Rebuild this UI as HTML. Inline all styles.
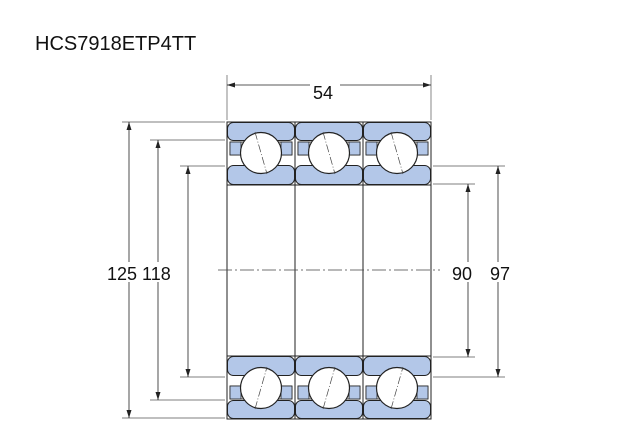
<!DOCTYPE html>
<html><head><style>
body{margin:0;background:#fff;width:640px;height:440px;overflow:hidden}
svg{display:block}
text{font-family:"Liberation Sans",sans-serif;fill:#111}
</style></head><body>
<svg width="640" height="440" viewBox="0 0 640 440">
<defs>
<marker id="a" markerWidth="8" markerHeight="8" refX="8" refY="4" orient="auto-start-reverse" markerUnits="userSpaceOnUse"><path d="M0,1.5 L8,4 L0,6.5z" fill="#222"/></marker>
<g id="top">
  <rect x="0" y="0" width="68" height="63" fill="none" stroke="#222" stroke-width="1"/>
  <rect x="0.5" y="0.5" width="67" height="18" rx="6" fill="#b3c7e8" stroke="#222"/>
  <rect x="0.5" y="43.5" width="67" height="19" rx="6" fill="#b3c7e8" stroke="#222"/>
  <rect x="3" y="20" width="62" height="13" fill="#fff" stroke="#222" stroke-width="0.8"/>
  <rect x="3" y="20" width="11" height="13" fill="#b3c7e8" stroke="#222" stroke-width="0.8"/>
  <rect x="54" y="20" width="11" height="13" fill="#b3c7e8" stroke="#222" stroke-width="0.8"/>
  <circle cx="34" cy="31" r="20.5" fill="#fff" stroke="#222" stroke-width="1.2"/>
  <line x1="28" y1="10" x2="40" y2="52" stroke="#444" stroke-width="0.7" stroke-dasharray="8,2,1,2"/>
</g>
</defs>
<text x="35" y="50" font-size="20">HCS7918ETP4TT</text>
<g transform="translate(227,122)"><use href="#top"/></g>
<g transform="translate(295,122)"><use href="#top"/></g>
<g transform="translate(363,122)"><use href="#top"/></g>
<g transform="translate(227,419) scale(1,-1)"><use href="#top"/></g>
<g transform="translate(295,419) scale(1,-1)"><use href="#top"/></g>
<g transform="translate(363,419) scale(1,-1)"><use href="#top"/></g>
<g stroke="#222" stroke-width="1" fill="none">
<line x1="227" y1="185" x2="227" y2="357"/>
<line x1="295" y1="185" x2="295" y2="357"/>
<line x1="363" y1="185" x2="363" y2="357"/>
<line x1="431" y1="185" x2="431" y2="357"/>
</g>
<line x1="218" y1="270" x2="440" y2="270" stroke="#444" stroke-width="0.7" stroke-dasharray="14,3,2,3"/>
<g stroke="#555" stroke-width="0.7">
<line x1="227" y1="75" x2="227" y2="120"/><line x1="431" y1="75" x2="431" y2="120"/>
<line x1="122" y1="122" x2="225" y2="122"/><line x1="122" y1="418" x2="225" y2="418"/>
<line x1="150" y1="140" x2="225" y2="140"/><line x1="150" y1="400" x2="225" y2="400"/>
<line x1="180" y1="166" x2="225" y2="166"/><line x1="180" y1="377" x2="225" y2="377"/>
<line x1="433" y1="166" x2="505" y2="166"/><line x1="433" y1="377" x2="505" y2="377"/>
<line x1="433" y1="184" x2="475" y2="184"/><line x1="433" y1="357" x2="475" y2="357"/>
</g>
<g stroke="#222" stroke-width="0.8" marker-start="url(#a)" marker-end="url(#a)">
<line x1="227" y1="85" x2="431" y2="85"/>
<line x1="129" y1="122" x2="129" y2="418"/>
<line x1="158" y1="140" x2="158" y2="400"/>
<line x1="188" y1="166" x2="188" y2="377"/>
<line x1="468" y1="184" x2="468" y2="357"/>
<line x1="498" y1="166" x2="498" y2="377"/>
</g>
<rect x="310" y="80" width="30" height="22" fill="#fff"/>
<text x="313" y="99" font-size="18">54</text>
<rect x="105" y="262" width="75" height="20" fill="#fff"/>
<text x="107" y="280" font-size="18">125 118</text>
<rect x="450" y="262" width="65" height="20" fill="#fff"/>
<text x="452" y="280" font-size="18">90</text>
<text x="490" y="280" font-size="18">97</text>
</svg>
</body></html>
